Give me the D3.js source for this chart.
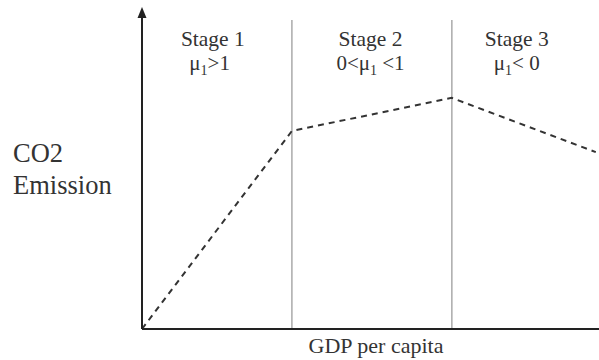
<!DOCTYPE html>
<html lang="en">

<head>
    <script src='https://d3js.org/d3.v7.min.js'></script>
    <style>
        body { margin: 0; background: #fff; }
    </style>
</head>

<body>
    <div id="chart"></div>

    <script>
        // data (arbitrary units)
        const gdp = [0, 3.28, 6.78, 9.93];
        const emission = [0, 6.17, 7.2, 5.51];
        const stageBounds = [3.28, 6.78];
        const stageNames = ["Stage 1", "Stage 2", "Stage 3"];
        const stageCentres = [1.55, 5.0, 8.2];

        const width = 599;
        const height = 360;
        const serif = "'Liberation Serif', 'DejaVu Serif', serif";

        const x = d3.scaleLinear().domain([0, 10]).range([142, 599]);
        const y = d3.scaleLinear().domain([0, 10]).range([329, 8]);

        const svg = d3.select("#chart").append("svg")
            .attr("width", width)
            .attr("height", height)
            .attr("font-family", serif);

        // stage dividers
        svg.selectAll(".divider").data(stageBounds)
            .enter()
            .append("line")
            .attr("class", "divider")
            .attr("x1", d => x(d))
            .attr("x2", d => x(d))
            .attr("y1", 20)
            .attr("y2", y(0))
            .attr("stroke", "#aaa")
            .attr("stroke-width", 1.5);

        // emission path
        const points = gdp.map((g, i) => [g, emission[i]]);
        svg.append("path")
            .datum(points)
            .attr("d", d3.line().x(d => x(d[0])).y(d => y(d[1])))
            .attr("fill", "none")
            .attr("stroke", "#333")
            .attr("stroke-width", 2)
            .attr("stroke-dasharray", "6,5");

        // axes
        svg.append("line")
            .attr("x1", x(0)).attr("x2", width)
            .attr("y1", y(0)).attr("y2", y(0))
            .attr("stroke", "#222")
            .attr("stroke-width", 2);
        svg.append("line")
            .attr("x1", x(0)).attr("x2", x(0))
            .attr("y1", y(0)).attr("y2", 16)
            .attr("stroke", "#222")
            .attr("stroke-width", 2);
        svg.append("path")
            .attr("d", "M" + x(0) + ",7 L" + (x(0) - 4.5) + ",18 L" + (x(0) + 4.5) + ",18 Z")
            .attr("fill", "#222");

        // stage labels
        svg.selectAll(".stage").data(stageNames)
            .enter()
            .append("text")
            .attr("class", "stage")
            .attr("x", (d, i) => x(stageCentres[i]))
            .attr("y", 46)
            .attr("text-anchor", "middle")
            .attr("fill", "#333")
            .style("font-size", "21.5px")
            .text(d => d);

        // elasticity conditions, with subscript 1
        const conds = [["", ">1"], ["0<", " <1"], ["", "< 0"]];
        const condX = [1.48, 5.0, 8.2];
        conds.forEach((c, i) => {
            const t = svg.append("text")
                .attr("x", x(condX[i]))
                .attr("y", 70)
                .attr("text-anchor", "middle")
                .attr("fill", "#333")
                .style("font-size", "21px");
            t.append("tspan").text(c[0] + "\u03bc");
            t.append("tspan").attr("dy", 5).style("font-size", "14px").text("1");
            t.append("tspan").attr("dy", -5).text(c[1]);
        });

        // axis titles
        svg.append("text")
            .attr("x", 13).attr("y", 162)
            .attr("fill", "#333")
            .style("font-size", "26.5px")
            .text("CO2");
        svg.append("text")
            .attr("x", 13).attr("y", 194)
            .attr("fill", "#333")
            .style("font-size", "26.5px")
            .text("Emission");
        svg.append("text")
            .attr("x", 376).attr("y", 353)
            .attr("text-anchor", "middle")
            .attr("fill", "#333")
            .style("font-size", "22px")
            .text("GDP per capita");
    </script>
</body>

</html>
